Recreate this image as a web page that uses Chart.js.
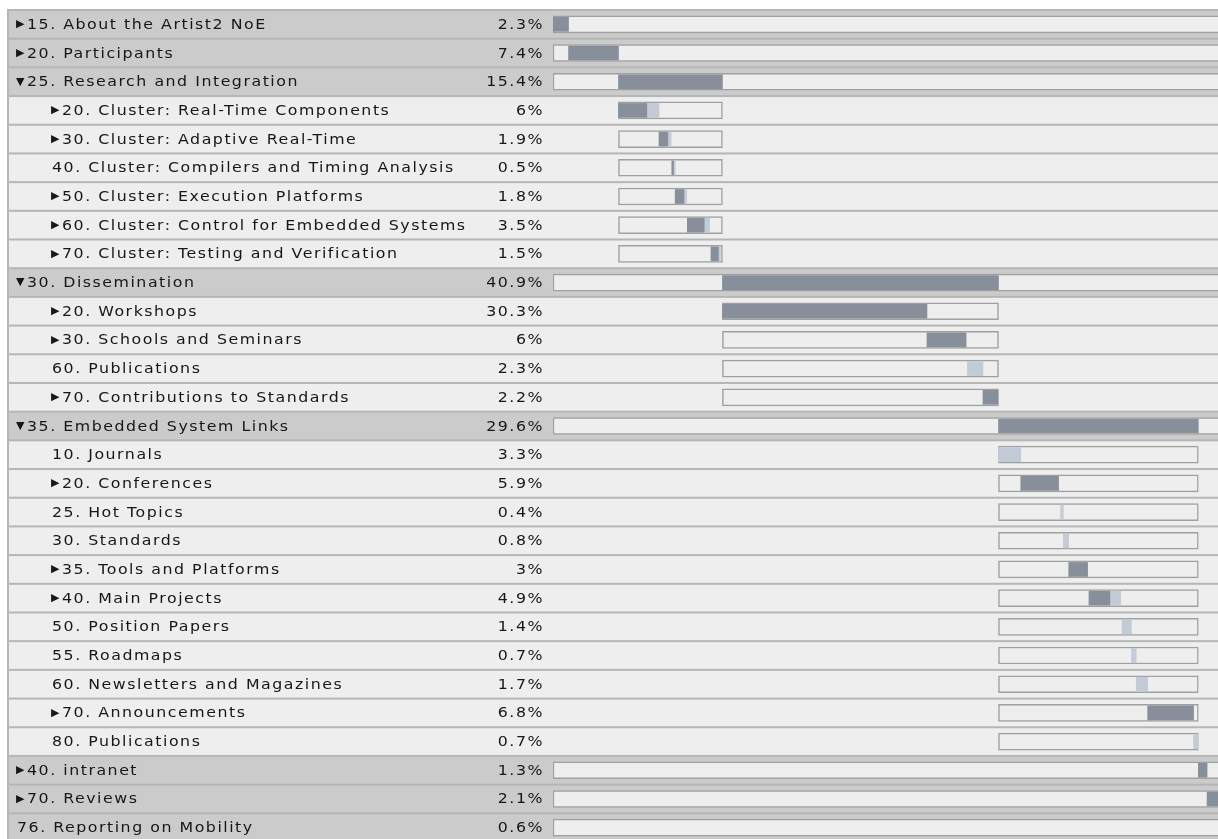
<!DOCTYPE html>
<html>
<head>
<meta charset="utf-8">
<title>Page views by section</title>
<script src="https://cdn.jsdelivr.net/npm/chart.js@4/dist/chart.umd.min.js"></script>
<style>
    html, body { margin: 0; padding: 0; background: #ffffff; overflow: hidden; }
    #wrap { position: absolute; left: 0; top: 0; width: 1240px; height: 845px; }
</style>
</head>
<body>
<div id="wrap"><canvas id="treeChart"></canvas></div>
<script>
// Sections of the site, in display order
const labels = [
    '15. About the Artist2 NoE', '20. Participants', '25. Research and Integration',
    '20. Cluster: Real-Time Components', '30. Cluster: Adaptive Real-Time',
    '40. Cluster: Compilers and Timing Analysis', '50. Cluster: Execution Platforms',
    '60. Cluster: Control for Embedded Systems', '70. Cluster: Testing and Verification',
    '30. Dissemination', '20. Workshops', '30. Schools and Seminars', '60. Publications',
    '70. Contributions to Standards', '35. Embedded System Links', '10. Journals',
    '20. Conferences', '25. Hot Topics', '30. Standards', '35. Tools and Platforms',
    '40. Main Projects', '50. Position Papers', '55. Roadmaps', '60. Newsletters and Magazines',
    '70. Announcements', '80. Publications', '40. intranet', '70. Reviews', '76. Reporting on Mobility'
];
const levels = [0, 0, 0, 1, 1, 1, 1, 1, 1, 0, 1, 1, 1, 1, 0, 1, 1, 1, 1, 1, 1, 1, 1, 1, 1, 1, 0, 0, 0];
const markers = ['▶', '▶', '▼', '▶', '▶', '', '▶', '▶', '▶', '▼', '▶', '▶', '', '▶', '▼',
    '', '▶', '', '', '▶', '▶', '', '', '', '▶', '', '▶', '▶', ''];
// share of all page views (%)
const shares = [2.3, 7.4, 15.4, 6, 1.9, 0.5, 1.8, 3.5, 1.5, 40.9, 30.3, 6, 2.3, 2.2, 29.6,
    3.3, 5.9, 0.4, 0.8, 3, 4.9, 1.4, 0.7, 1.7, 6.8, 0.7, 1.3, 2.1, 0.6];
// dark part and light part of each bar (%)
const darkPart = [2.3, 7.4, 15.4, 4.2, 1.3, 0.25, 1.3, 2.5, 1.1, 40.9, 30.3, 5.8, 0, 2.2, 29.6,
    0, 5.6, 0, 0, 2.8, 3.1, 0, 0, 0, 6.8, 0, 1.3, 2.1, 0];
const lightPart = [0, 0, 0, 1.8, 0.5, 0.25, 0.4, 0.8, 0.3, 0, 0, 0, 2.3, 0, 0,
    3.3, 0, 0.4, 0.8, 0, 1.6, 1.4, 0.7, 1.7, 0, 0.7, 0, 0, 0.6];

const colors = {
    dark: '#87909a',
    light: '#c3ccd6',
    box: '#eeeeee',
    boxBorder: '#a0a0a0',
    topRow: '#cbcbcb',
    subRow: '#eeeeee',
    rule: '#b6b6b6',
    text: '#16161c'
};

// where each bar starts, and the frame it sits in (parent's span)
const starts = [], frames = [];
let topOffset = 0, childOffset = 0, parentSpan = [0, 100];
labels.forEach((l, i) => {
    if (levels[i] === 0) {
        starts.push(topOffset);
        frames.push([0, 100]);
        parentSpan = [topOffset, topOffset + shares[i]];
        childOffset = topOffset;
        topOffset += shares[i];
    } else {
        starts.push(childOffset);
        frames.push(parentSpan.slice());
        childOffset += shares[i];
    }
});

// text in the original is wide, so stretch it a little
function wideText(ctx, text, x, y, align) {
    ctx.save();
    ctx.translate(x, y);
    ctx.scale(1.17, 1);
    ctx.textAlign = align;
    ctx.fillText(text, 0, 0);
    ctx.restore();
}

const rowPlugin = {
    id: 'rows',
    beforeDatasetsDraw(chart) {
        const ctx = chart.ctx;
        const y = chart.scales.y;
        const band = (y.bottom - y.top) / labels.length;
        const w = chart.width;
        ctx.save();
        labels.forEach((l, i) => {
            const top = y.getPixelForValue(i) - band / 2;
            ctx.fillStyle = levels[i] === 0 ? colors.topRow : colors.subRow;
            ctx.fillRect(8, top, w, band);
            ctx.fillStyle = colors.rule;
            ctx.fillRect(8, top - 1, w, 2);
        });
        ctx.fillRect(7, y.top - 1, 2, y.bottom - y.top + 2);
        ctx.restore();
    },
    afterDatasetsDraw(chart) {
        const ctx = chart.ctx;
        const y = chart.scales.y;
        ctx.save();
        ctx.fillStyle = colors.text;
        ctx.textBaseline = 'middle';
        labels.forEach((l, i) => {
            const cy = y.getPixelForValue(i) + 1;
            const x0 = levels[i] === 0 ? 17 : 52;
            let x = x0;
            if (markers[i]) {
                ctx.font = '11px "DejaVu Sans"';
                ctx.letterSpacing = '0px';
                ctx.textAlign = 'left';
                ctx.fillText(markers[i], x0 - 1, cy - 1);
                x = x0 + 10;
            }
            ctx.font = '13.5px "DejaVu Sans"';
            ctx.letterSpacing = '1.3px';
            wideText(ctx, l, x, cy, 'left');
            wideText(ctx, shares[i] + '%', 544, cy, 'right');
        });
        ctx.restore();
    }
};

new Chart(document.getElementById('treeChart'), {
    type: 'bar',
    data: {
        labels: labels,
        datasets: [{
            label: 'dark',
            data: starts.map((s, i) => darkPart[i] > 0 ? [s, s + darkPart[i]] : null),
            backgroundColor: colors.dark,
            barThickness: 14,
            grouped: false,
            order: 1
        }, {
            label: 'light',
            data: starts.map((s, i) => lightPart[i] > 0 ? [s + darkPart[i], s + darkPart[i] + lightPart[i]] : null),
            backgroundColor: colors.light,
            barThickness: 14,
            grouped: false,
            order: 1
        }, {
            label: 'frame',
            data: frames,
            backgroundColor: colors.box,
            borderColor: colors.boxBorder,
            borderWidth: 1.5,
            borderSkipped: false,
            barThickness: 17,
            grouped: false,
            order: 2
        }]
    },
    options: {
        indexAxis: 'y',
        responsive: true,
        maintainAspectRatio: false,
        animation: false,
        layout: { padding: { left: 553, right: 12, top: 10, bottom: 3 } },
        plugins: {
            legend: { display: false },
            tooltip: { enabled: false }
        },
        scales: {
            x: { display: false, min: 0, max: 100 },
            y: { display: false }
        }
    },
    plugins: [rowPlugin]
});
</script>
</body>
</html>
